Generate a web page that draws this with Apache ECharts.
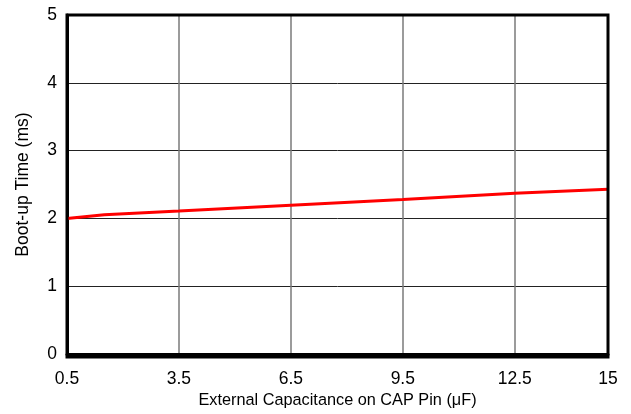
<!DOCTYPE html>
<html><head><meta charset="utf-8">
<script src="https://cdn.jsdelivr.net/npm/echarts@6/dist/echarts.min.js"></script>
<style>html,body{margin:0;padding:0;background:#fff}#c{width:631px;height:414px}</style>
</head><body><div id="c"></div>
<script>
const capacitance = [0.5, 1.5, 3.5, 6.5, 9.5, 12.5, 15];
const bootTime = [2.0, 2.055, 2.11, 2.195, 2.28, 2.37, 2.43];
const xTitle = 'External Capacitance on CAP Pin (\u03bcF)';
const yTitle = 'Boot-up Time (ms)';
const font = 'Liberation Sans, Arial, sans-serif';
const chart = echarts.init(document.getElementById('c'));
chart.setOption({
  animation: false,
  grid: {left: 67, right: 23, top: 15, bottom: 57, show: false},
  xAxis: {
    type: 'value', min: 0.5, max: 15, interval: 3,
    name: xTitle, nameLocation: 'middle', nameGap: 36,
    nameTextStyle: {fontFamily: font, fontSize: 16.3, color: '#000'},
    axisLine: {show: true, lineStyle: {color: '#000', width: 3}}, axisTick: {show: false},
    axisLabel: {fontFamily: font, fontSize: 17.5, color: '#000', margin: 16, showMaxLabel: true, showMinLabel: true},
    splitLine: {show: true, lineStyle: {color: '#7a7a7a', width: 1.5}}
  },
  yAxis: {
    type: 'value', min: 0, max: 5, interval: 1,
    name: yTitle, nameLocation: 'middle', nameGap: 35,
    nameTextStyle: {fontFamily: font, fontSize: 17.5, color: '#000'},
    axisLine: {show: true, lineStyle: {color: '#000', width: 3}}, axisTick: {show: false},
    axisLabel: {fontFamily: font, fontSize: 17.5, color: '#000', margin: 10},
    splitLine: {show: true, lineStyle: {color: '#222', width: 1}}
  },
  series: [{
    type: 'line', data: capacitance.map((x, i) => [x, bootTime[i]]),
    showSymbol: false, lineStyle: {color: '#ff0000', width: 3}
  }],
  graphic: [{
    type: 'rect', z: 100, silent: true,
    shape: {x: 67, y: 15, width: 631 - 67 - 23, height: 414 - 15 - 57},
    style: {fill: 'none', stroke: '#000', lineWidth: 3}
  }]
});
</script></body></html>
